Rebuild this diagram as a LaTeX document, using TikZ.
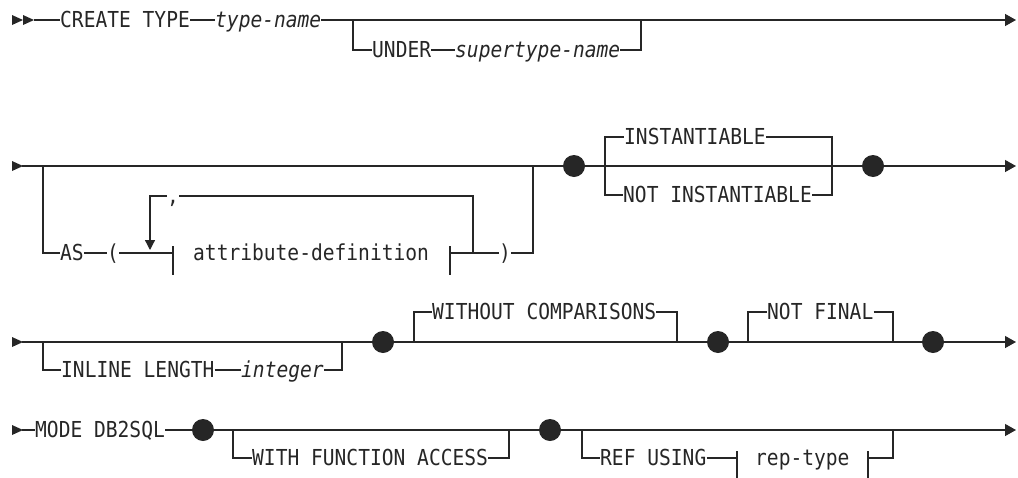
\documentclass[tikz,border=0pt]{standalone}
\usepackage{fontspec}
\newfontfamily\railfont[FakeStretch=0.89]{DejaVu Sans Mono}
\usetikzlibrary{arrows.meta}
\tikzset{
  rail/.style={line width=1.3pt, draw=black!85},
  endarrow/.style={rail, -{Triangle[length=11pt,width=12pt]}},
  looparrow/.style={rail, -{Triangle[length=10pt,width=10pt]}},
  kw/.style={font=\railfont\fontsize{22pt}{24pt}\selectfont, inner sep=0pt, text height=16pt, text depth=2pt, anchor=west, text=black!85},
  var/.style={kw, font=\railfont\fontsize{22pt}{24pt}\selectfont\itshape},
  dot/.style={circle, fill=black!85, minimum size=22pt, inner sep=0pt},
  head/.pic={\fill[black!85] (0,-5) -- (11,0) -- (0,5) -- cycle;}
}
\newcommand\fragbar[1]{\draw[rail] (#1) ++(0,-7) -- ++(0,29);}
\begin{document}
\begin{tikzpicture}[x=1pt, y=-1pt]
\useasboundingbox (0,0) rectangle (1018,477);

% row 1
\pic at (12,20) {head};
\pic at (23,20) {head};
\coordinate (s1) at (34,20);
\coordinate (e1) at (1016,20);
\node[kw] (create) at (60,20) {CREATE TYPE};
\node[var] (tname) at (215,20) {type-name};
\draw[rail] (s1) -- (create) -- (tname);
\draw[endarrow] (tname) -- (e1);
\coordinate (u1) at (353,20);
\coordinate (u2) at (641,20);
\node[kw] (under) at (372,50) {UNDER};
\node[var] (stname) at (455,50) {supertype-name};
\draw[rail] (u1) |- (under) -- (stname) -| (u2);

% row 2
\pic at (12,166) {head};
\coordinate (s2) at (22,166);
\coordinate (e2) at (1016,166);
\node[dot] (d1) at (574,166) {};
\node[dot] (d2) at (873,166) {};
\draw[rail] (s2) -- (d1) -- (d2);
\draw[endarrow] (d2) -- (e2);
\coordinate (a1) at (43,166);
\coordinate (a2) at (533,166);
\node[kw] (as) at (60,253) {AS};
\node[kw] (lp) at (107,253) {(};
\coordinate (bl) at (173,253);
\node[kw] (attr) at (193,253) {attribute-definition};
\coordinate (br) at (450,253);
\node[kw] (rp) at (499,253) {)};
\draw[rail] (a1) |- (as) -- (lp) -- (bl);
\fragbar{bl}
\fragbar{br}
\draw[rail] (br) -- (rp) -| (a2);
\coordinate (lr) at (473,253);
\coordinate (lt) at (150,250);
\node[kw] (comma) at (167,196) {,};
\draw[rail] (lr) |- (comma);
\draw[looparrow] (comma) -| (lt);
\coordinate (i1) at (605,166);
\coordinate (i2) at (832,166);
\node[kw] (inst) at (624,137) {INSTANTIABLE};
\node[kw] (ninst) at (623,195) {NOT INSTANTIABLE};
\draw[rail] (i1) |- (inst) -| (i2);
\draw[rail] (i1) |- (ninst) -| (i2);

% row 3
\pic at (12,342) {head};
\coordinate (s3) at (22,342);
\coordinate (e3) at (1016,342);
\node[dot] (d3) at (383,342) {};
\node[dot] (d4) at (718,342) {};
\node[dot] (d5) at (933,342) {};
\draw[rail] (s3) -- (d3) -- (d4) -- (d5);
\draw[endarrow] (d5) -- (e3);
\coordinate (c1) at (43,342);
\coordinate (c2) at (342,342);
\node[kw] (inline) at (61,370) {INLINE LENGTH};
\node[var] (int) at (241,370) {integer};
\draw[rail] (c1) |- (inline) -- (int) -| (c2);
\coordinate (w1) at (414,342);
\coordinate (w2) at (677,342);
\node[kw] (woc) at (432,312) {WITHOUT COMPARISONS};
\draw[rail] (w1) |- (woc) -| (w2);
\coordinate (n1) at (748,342);
\coordinate (n2) at (893,342);
\node[kw] (nfinal) at (767,312) {NOT FINAL};
\draw[rail] (n1) |- (nfinal) -| (n2);

% row 4
\pic at (12,430) {head};
\coordinate (s4) at (22,430);
\coordinate (e4) at (1016,430);
\node[kw] (mode) at (35,430) {MODE DB2SQL};
\node[dot] (d6) at (203,430) {};
\node[dot] (d7) at (550,430) {};
\draw[rail] (s4) -- (mode) -- (d6) -- (d7);
\draw[endarrow] (d7) -- (e4);
\coordinate (f1) at (233,430);
\coordinate (f2) at (509,430);
\node[kw] (wfa) at (252,458) {WITH FUNCTION ACCESS};
\draw[rail] (f1) |- (wfa) -| (f2);
\coordinate (r1) at (582,430);
\coordinate (r2) at (893,430);
\node[kw] (ref) at (600,458) {REF USING};
\coordinate (rl) at (737,458);
\node[kw] (rep) at (755,458) {rep-type};
\coordinate (rr) at (868,458);
\draw[rail] (r1) |- (ref) -- (rl);
\fragbar{rl}
\fragbar{rr}
\draw[rail] (rr) -| (r2);
\end{tikzpicture}
\end{document}
